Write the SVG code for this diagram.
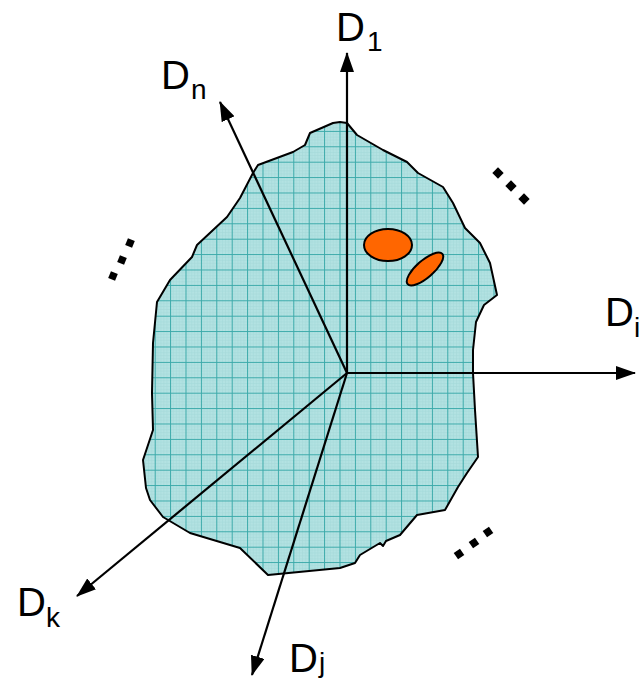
<svg xmlns="http://www.w3.org/2000/svg" width="641" height="679" viewBox="0 0 641 679">
<style>
.lbl{font-family:"Liberation Sans",Arial,Helvetica,sans-serif;fill:#000}
.big{font-size:40px}
.sub{font-size:28px}
.ax{stroke:#000;stroke-width:2.2;fill:none;marker-end:url(#ah)}
.dot{fill:#000}
.oval{fill:#ff6600;stroke:#000;stroke-width:2}
</style>
<defs>
<marker id="ah" viewBox="0 0 20 14" refX="19" refY="7" markerWidth="20" markerHeight="14" markerUnits="userSpaceOnUse" orient="auto">
<path d="M0,0 L20,7 L0,14 Z" fill="#000"/>
</marker>
<pattern id="grid" patternUnits="userSpaceOnUse" x="231.7" y="315.7" width="15.4" height="15.4">
<rect width="15.4" height="15.4" fill="#b3e2e2"/>
<path d="M3.08,0V15.4M6.16,0V15.4M9.24,0V15.4M12.32,0V15.4M0,3.08H15.4M0,6.16H15.4M0,9.24H15.4M0,12.32H15.4" stroke="#a3d9d9" stroke-width="0.6"/>
<path d="M0.5,0V15.4M0,0.5H15.4" stroke="#3aa9a9" stroke-width="1"/>
</pattern>
</defs>
<g id="region">
<path d="M340,122 L347,123 L357,135 L383,150 L407,162 L418,173 L443,187 L453,203 L465,228 L480,243 L490,263 L497,295 L484,305 L476,322 L473,350 L473,373 L475,410 L478,457 L467,473 L458,487 L445,510 L417,515 L400,535 L386,541 L383,546 L380,543 L360,555 L355,563 L340,568 L268,575 L240,548 L190,533 L163,517 L150,500 L146,488 L143,460 L153,430 L152,393 L153,343 L157,302 L170,280 L192,257 L197,245 L227,217 L240,198 L253,173 L258,165 L293,152 L305,145 L310,133 L333,123 Z" fill="url(#grid)" stroke="#000" stroke-width="2" stroke-linejoin="round"/>
</g>
<g id="ovals">
<ellipse class="oval" cx="388" cy="245" rx="24" ry="16"/>
<ellipse class="oval" cx="425" cy="269" rx="23" ry="8.5" transform="rotate(-41 425 269)"/>
</g>
<g id="connectors">
<line class="ax" x1="347" y1="373" x2="347" y2="53"/>
<line class="ax" x1="347" y1="373" x2="220" y2="102"/>
<line class="ax" x1="347" y1="373" x2="635" y2="373"/>
<line class="ax" x1="347" y1="373" x2="77" y2="596"/>
<line class="ax" x1="347" y1="373" x2="252" y2="675"/>
</g>
<g id="label-D1"><text class="lbl big" x="336" y="41">D</text><text class="lbl sub" x="367" y="51">1</text></g>
<g id="label-Dn"><text class="lbl big" x="161" y="89">D</text><text class="lbl sub" x="191" y="99">n</text></g>
<g id="label-Di"><text class="lbl big" x="605" y="326">D</text><text class="lbl sub" x="634" y="337">i</text></g>
<g id="label-Dk"><text class="lbl big" x="17" y="616">D</text><text class="lbl sub" x="46" y="627">k</text></g>
<g id="label-Dj"><text class="lbl big" x="289" y="672">D</text><text class="lbl sub" x="319" y="672">j</text></g>
<g id="dots-top-right">
<rect class="dot" x="-4" y="-4" width="8" height="8" transform="translate(498,173) rotate(45)"/>
<rect class="dot" x="-4" y="-4" width="8" height="8" transform="translate(511,186) rotate(45)"/>
<rect class="dot" x="-4" y="-4" width="8" height="8" transform="translate(524,199) rotate(45)"/>
</g>
<g id="dots-left">
<rect class="dot" x="-3.7" y="-3.7" width="7.4" height="7.4" transform="translate(130,243) rotate(22)"/>
<rect class="dot" x="-3.7" y="-3.7" width="7.4" height="7.4" transform="translate(122,260) rotate(22)"/>
<rect class="dot" x="-3.7" y="-3.7" width="7.4" height="7.4" transform="translate(113,276) rotate(22)"/>
</g>
<g id="dots-bottom-right">
<rect class="dot" x="-3.8" y="-3.8" width="7.6" height="7.6" transform="translate(459,554) rotate(55)"/>
<rect class="dot" x="-3.8" y="-3.8" width="7.6" height="7.6" transform="translate(474,543) rotate(55)"/>
<rect class="dot" x="-3.8" y="-3.8" width="7.6" height="7.6" transform="translate(488,532) rotate(55)"/>
</g>
</svg>
